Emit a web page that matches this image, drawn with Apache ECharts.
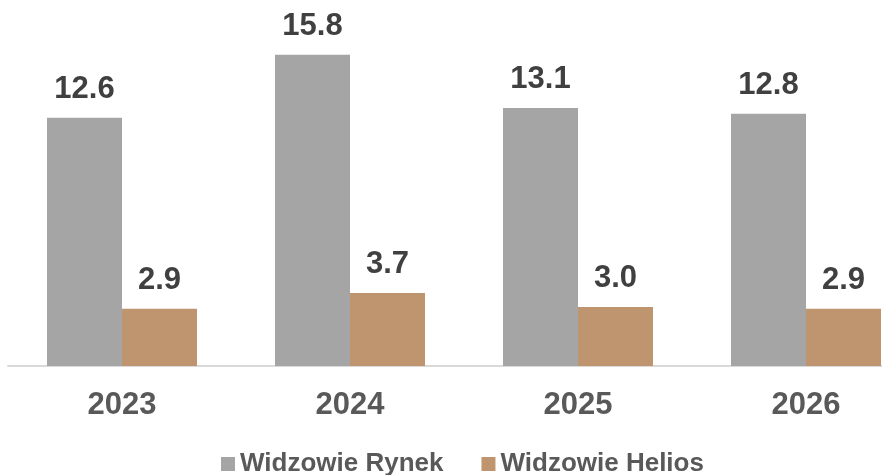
<!DOCTYPE html>
<html>
<head>
<meta charset="utf-8">
<title>Widzowie</title>
<script src="https://cdn.jsdelivr.net/npm/echarts@6/dist/echarts.min.js"></script>
<style>
  html, body { margin: 0; padding: 0; background: #fff; }
  #chart { width: 882px; height: 475px; }
</style>
</head>
<body>
<div id="chart"></div>
<script>
// data
const years = ['2023', '2024', '2025', '2026']
const rynek = [12.6, 15.8, 13.1, 12.8]
const helios = [2.9, 3.7, 3.0, 2.9]
const seriesNames = ['Widzowie Rynek', 'Widzowie Helios']

const fontFamily = '"Liberation Sans", Arial, sans-serif'

// the last category is cut by the right edge in the source, so the x axis
// is a value axis (one unit per year) whose range stops short of 3.5
const xMin = -0.5
const xMax = -0.5 + 874 / 228

const chart = echarts.init(document.getElementById('chart'))

function barLabel() {
  return {
    show: true,
    position: 'top',
    distance: 13,
    formatter: p => p.value[1].toFixed(1),
    fontFamily,
    fontWeight: 'bold',
    fontSize: 31,
    color: '#404040'
  }
}

chart.setOption({
  animation: false,
  grid: {
    left: 8,
    right: 0,
    top: 11.4,
    bottom: 109,
    containLabel: false
  },
  legend: {
    data: seriesNames,
    left: 216,
    top: 446,
    icon: 'rect',
    itemWidth: 14,
    itemHeight: 14,
    itemGap: 38,
    textStyle: {
      fontFamily,
      fontWeight: 'bold',
      fontSize: 26,
      color: '#595959'
    }
  },
  xAxis: {
    type: 'value',
    min: xMin,
    max: xMax,
    splitLine: { show: false },
    axisTick: { show: false },
    axisLine: { onZero: false, lineStyle: { color: '#d9d9d9', width: 2 } },
    axisLabel: {
      customValues: years.map((y, i) => i),
      formatter: v => years[Math.round(v)],
      margin: 24,
      fontFamily,
      fontWeight: 'bold',
      fontSize: 31,
      color: '#595959'
    }
  },
  yAxis: {
    type: 'value',
    min: 0,
    max: 18,
    show: false,
    splitLine: { show: false }
  },
  series: [
    {
      name: seriesNames[0],
      type: 'bar',
      data: rynek.map((v, i) => [i, v]),
      barWidth: 75,
      barGap: '0%',
      itemStyle: { color: '#a5a5a5' },
      label: barLabel()
    },
    {
      name: seriesNames[1],
      type: 'bar',
      data: helios.map((v, i) => [i, v]),
      barWidth: 75,
      itemStyle: { color: '#bf9570' },
      label: barLabel()
    }
  ]
})
</script>
</body>
</html>
